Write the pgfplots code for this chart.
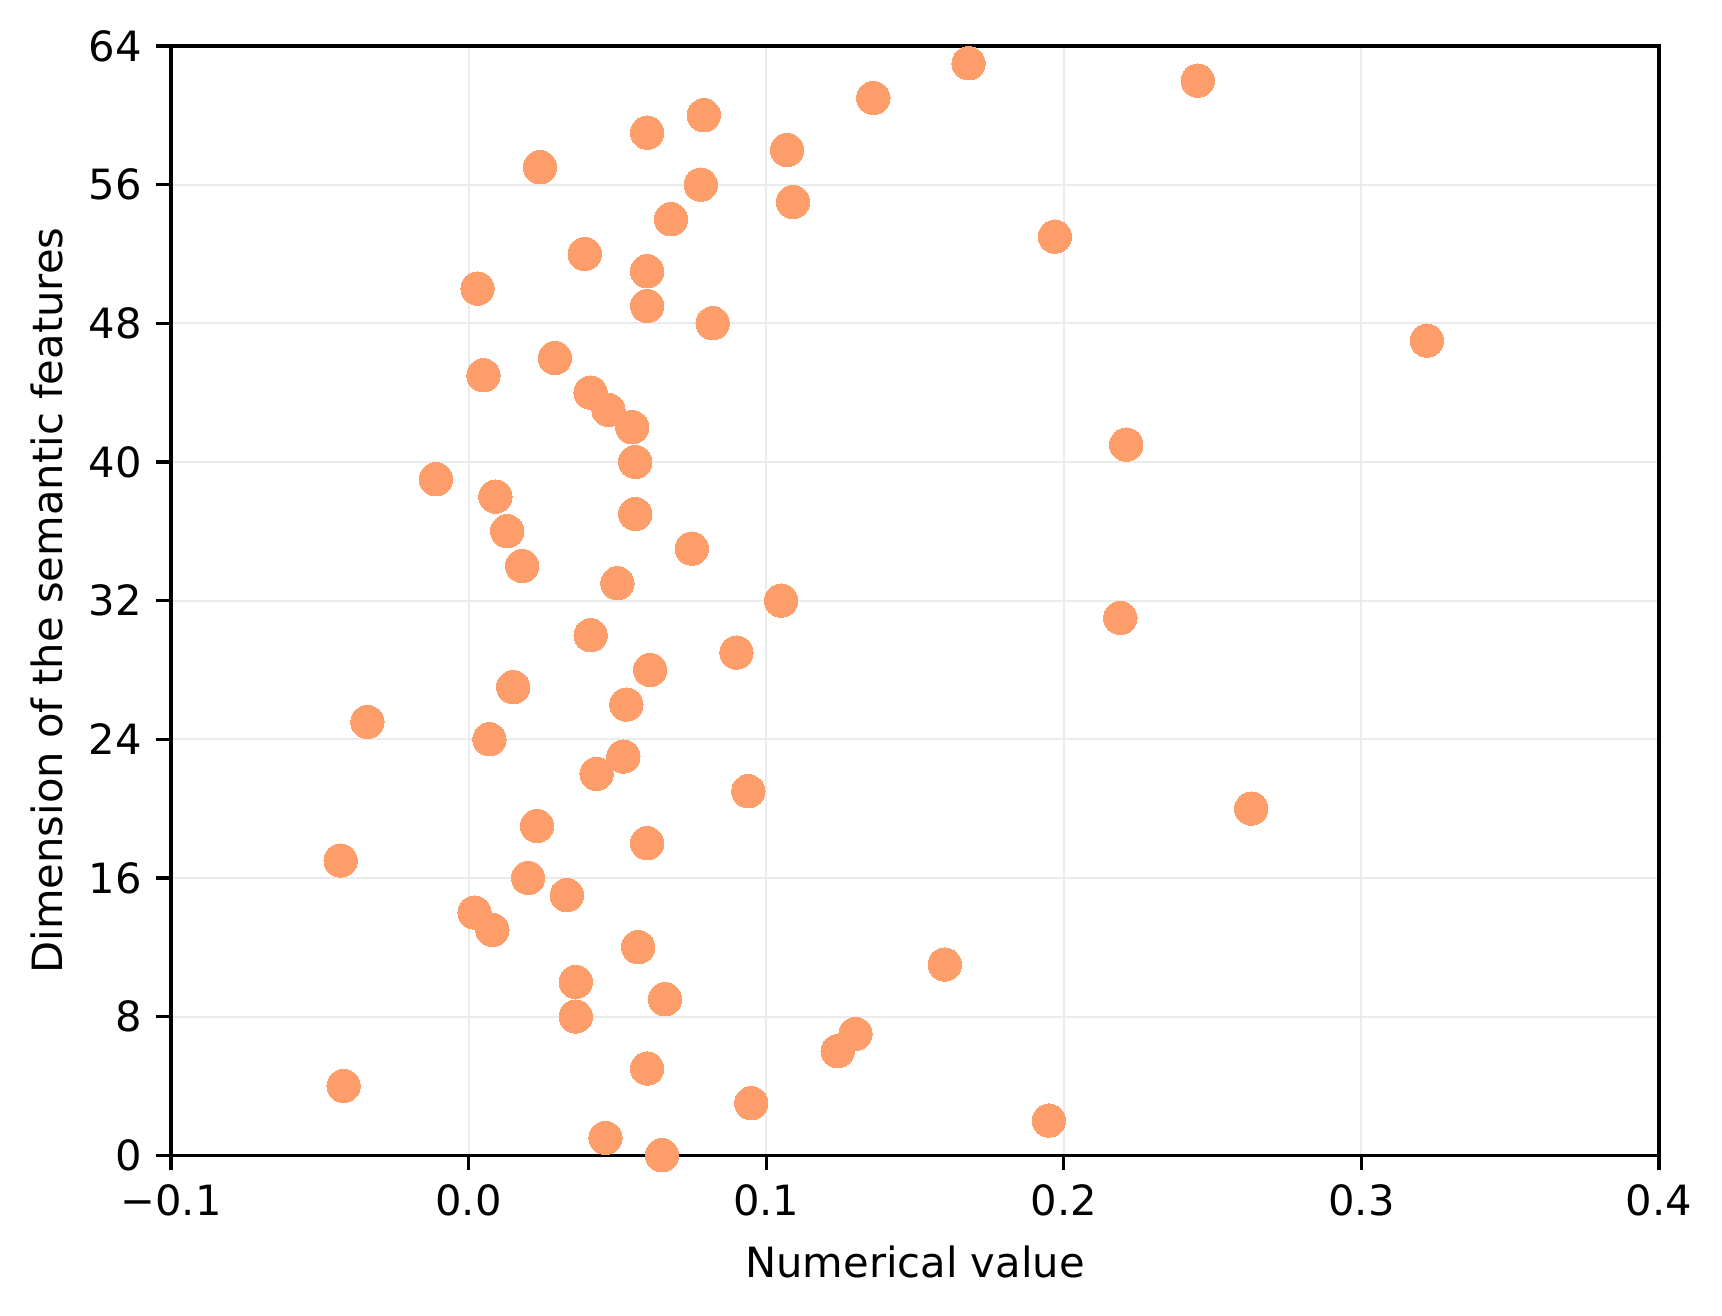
\documentclass[border=0pt]{standalone}
\usepackage{fontspec}
\setmainfont{DejaVu Sans}
\usepackage{pgfplots}
\pgfplotsset{compat=1.18}
\definecolor{pts}{RGB}{252,157,106}
\begin{document}
\begin{tikzpicture}
\begin{axis}[
  scale only axis,
  width=357.1pt, height=266.2pt,
  xmin=-0.1, xmax=0.4, ymin=0, ymax=64,
  xtick={-0.1,0,0.1,0.2,0.3,0.4},
  xticklabels={−0.1,0.0,0.1,0.2,0.3,0.4},
  ytick={0,8,16,24,32,40,48,56,64},
  /pgf/number format/assume math mode=true,
  tick label style={font=\fontsize{10}{12}\selectfont},
  label style={font=\fontsize{10}{12}\selectfont},
  tick align=outside, tick pos=left,
  major tick length=3.5pt,
  every tick/.style={black, line width=0.8pt},
  axis line style={line width=0.8pt},
  xmajorgrids, ymajorgrids,
  major grid style={black!8, line width=0.5pt},
  xlabel={Numerical value},
  ylabel={Dimension of the semantic features},
  xlabel style={at={(axis description cs:0.5,-0.0962)}, anchor=center},
  ylabel style={at={(axis description cs:-0.0832,0.5)}, anchor=center},
]
\addplot[only marks, color=pts, mark=*, mark size=4pt, mark options={draw=pts, fill=pts, line width=0pt}] coordinates {
(0.065,0) (0.046,1) (0.195,2) (0.095,3) (-0.042,4) (0.060,5) (0.124,6) (0.130,7)
(0.036,8) (0.066,9) (0.036,10) (0.160,11) (0.057,12) (0.008,13) (0.002,14) (0.033,15)
(0.020,16) (-0.043,17) (0.060,18) (0.023,19) (0.263,20) (0.094,21) (0.043,22) (0.052,23)
(0.007,24) (-0.034,25) (0.053,26) (0.015,27) (0.061,28) (0.090,29) (0.041,30) (0.219,31)
(0.105,32) (0.050,33) (0.018,34) (0.075,35) (0.013,36) (0.056,37) (0.009,38) (-0.011,39)
(0.056,40) (0.221,41) (0.055,42) (0.047,43) (0.041,44) (0.005,45) (0.029,46) (0.322,47)
(0.082,48) (0.060,49) (0.003,50) (0.060,51) (0.039,52) (0.197,53) (0.068,54) (0.109,55)
(0.078,56) (0.024,57) (0.107,58) (0.060,59) (0.079,60) (0.136,61) (0.245,62) (0.168,63)
};
\end{axis}
\pgfresetboundingbox
\path ([shift={(-41.04pt,-38.4pt)}]current axis.south west) rectangle ([shift={(15.12pt,11.04pt)}]current axis.north east);
\end{tikzpicture}
\end{document}
